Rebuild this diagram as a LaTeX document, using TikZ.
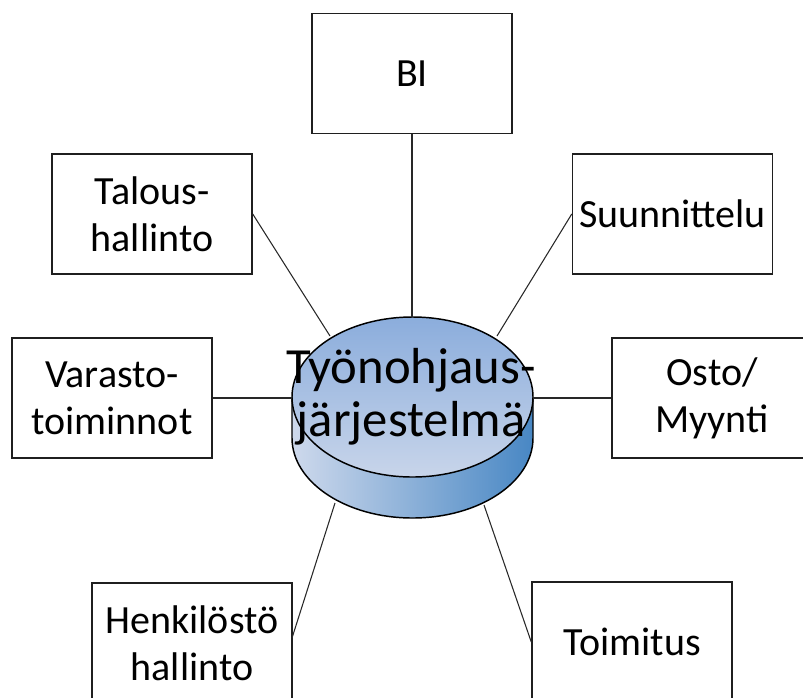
\documentclass[tikz,border=0pt]{standalone}
\usepackage{fontspec}
\setmainfont{Carlito}
\definecolor{topA}{RGB}{139,173,220}
\definecolor{topB}{RGB}{200,213,234}
\definecolor{sideA}{RGB}{206,217,236}
\definecolor{sideB}{RGB}{72,135,196}
\definecolor{linec}{RGB}{40,40,40}
\begin{document}
\begin{tikzpicture}[x=0.75pt,y=-0.75pt,
  box/.style={draw=black!88,line width=1.1pt,minimum width=150pt,minimum height=90pt,
    inner sep=0pt,align=center,font=\fontsize{30}{35}\selectfont},
  conn/.style={draw=linec,line width=0.8pt},
  cyl/.style={draw=black,line width=1.1pt}]
\useasboundingbox (0,0) rectangle (803,697);
\clip (0,0) rectangle (803,697);
% boxes
\node[box] (bi) at (412,73.5) {BI};
\node[box] (tal) at (152,214) {Talous-\\hallinto};
\node[box] (suu) at (672.5,214) {Suunnittelu};
\node[box] (var) at (112,398) {Varasto-\\toiminnot};
\node[box] (osto) at (712,398) {Osto/\\Myynti};
\node[box] (hen) at (192,643) {Henkilöstö\\hallinto};
\node[box] (toi) at (632,642) {Toimitus};
% cylinder
\shade[left color=sideA,right color=sideB] (292,397) -- (292,438)
  arc[start angle=180,end angle=0,x radius=120.5,y radius=80] -- (533,397) -- cycle;
\draw[cyl] (292,397) -- (292,438)
  arc[start angle=180,end angle=0,x radius=120.5,y radius=80] -- (533,397);
\shade[cyl,top color=topA,bottom color=topB] (412.5,397) ellipse[x radius=120.5,y radius=80];
% connection points on cylinder
\coordinate (cbi) at (412,317);
\coordinate (ctal) at (330,336);
\coordinate (csuu) at (497,336);
\coordinate (cvar) at (292,398);
\coordinate (costo) at (533,398);
\coordinate (chen) at (335,503);
\coordinate (ctoi) at (484,505);
\coordinate (hend) at (292,638);
% connectors
\draw[conn] (bi.south) -- (cbi);
\draw[conn] (tal.east) -- (ctal);
\draw[conn] (suu.west) -- (csuu);
\draw[conn] (var.east) -- (cvar);
\draw[conn] (osto.west) -- (costo);
\draw[conn] (hend) -- (chen);
\draw[conn] (toi.west) -- (ctoi);
% central text
\node[align=center,inner sep=0pt,font=\fontsize{38}{40}\selectfont] (sys) at (411,397) {Työnohjaus-\\järjestelmä};
\end{tikzpicture}
\end{document}
